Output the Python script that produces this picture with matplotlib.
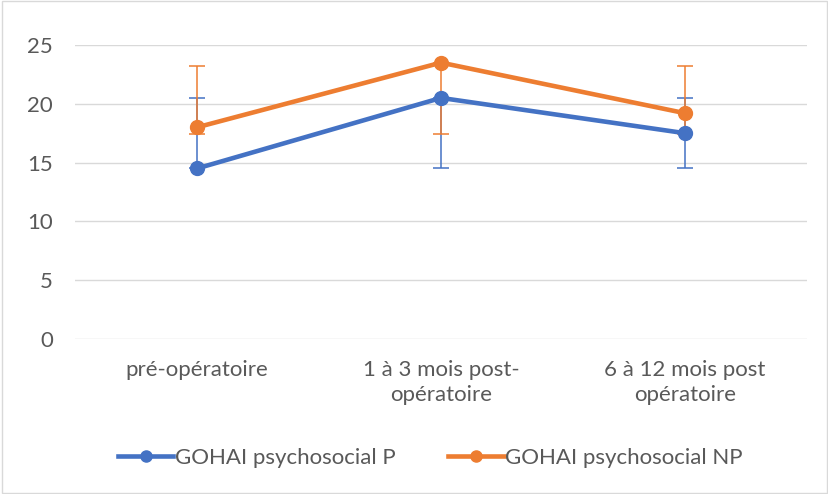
import matplotlib
matplotlib.use("Agg")
import matplotlib.pyplot as plt
from matplotlib.patches import Rectangle

categories = ["pré-opératoire", "1 à 3 mois post-\nopératoire", "6 à 12 mois post\nopératoire"]
series_p = [14.5, 20.5, 17.5]
series_np = [18.0, 23.5, 19.2]
err_p_low = [0.0, 6.0, 3.0]
err_p_high = [6.0, 0.0, 3.0]
err_np_low = [0.6, 6.1, 1.8]
err_np_high = [5.2, 0.0, 4.0]
labels = ["GOHAI psychosocial P", "GOHAI psychosocial NP"]
yticks = [0, 5, 10, 15, 20, 25]

plt.rcParams['font.family'] = ['Lato', 'DejaVu Sans']
fig = plt.figure(figsize=(8.29, 4.94), dpi=100)
ax = fig.add_axes([0.0905, 0.3138, 0.883, 0.5951])

blue = "#4472C4"
orange = "#ED7D31"
x = list(range(len(categories)))

ax.errorbar(x, series_p, yerr=[err_p_low, err_p_high], fmt='none', ecolor=blue,
            elinewidth=1.1, capsize=5.5, capthick=1.1, zorder=3)
ax.errorbar(x, series_np, yerr=[err_np_low, err_np_high], fmt='none', ecolor=orange,
            elinewidth=1.1, capsize=5.5, capthick=1.1, zorder=3)
ax.plot(x, series_p, color=blue, lw=3.3, marker='o', ms=10, label=labels[0], zorder=4)
ax.plot(x, series_np, color=orange, lw=3.3, marker='o', ms=10, label=labels[1], zorder=4)

ax.set_xlim(-0.5, 2.5)
ax.set_ylim(0, 25)
ax.set_yticks(yticks)
ax.set_xticks(x)
ax.set_xticklabels(categories, fontsize=16, color="#595959", linespacing=1.3)
ax.tick_params(axis='y', labelsize=16, labelcolor="#595959", length=0, pad=16)
ax.tick_params(axis='x', length=0, pad=15)
ax.grid(axis='y', color="#D9D9D9", lw=1.0)
ax.set_axisbelow(True)
for s in ax.spines.values():
    s.set_visible(False)

leg = fig.legend(loc='center', bbox_to_anchor=(0.519, 0.073), ncol=2, frameon=False,
                 fontsize=16, handlelength=2.5, handletextpad=0.05, columnspacing=2.4,
                 labelcolor="#595959", markerscale=0.8)

fig.patches.append(Rectangle((0.002, 0.002), 0.996, 0.996, transform=fig.transFigure,
                             fill=False, edgecolor="#D9D9D9", lw=1.0))
fig.savefig("out.png", dpi=100)
